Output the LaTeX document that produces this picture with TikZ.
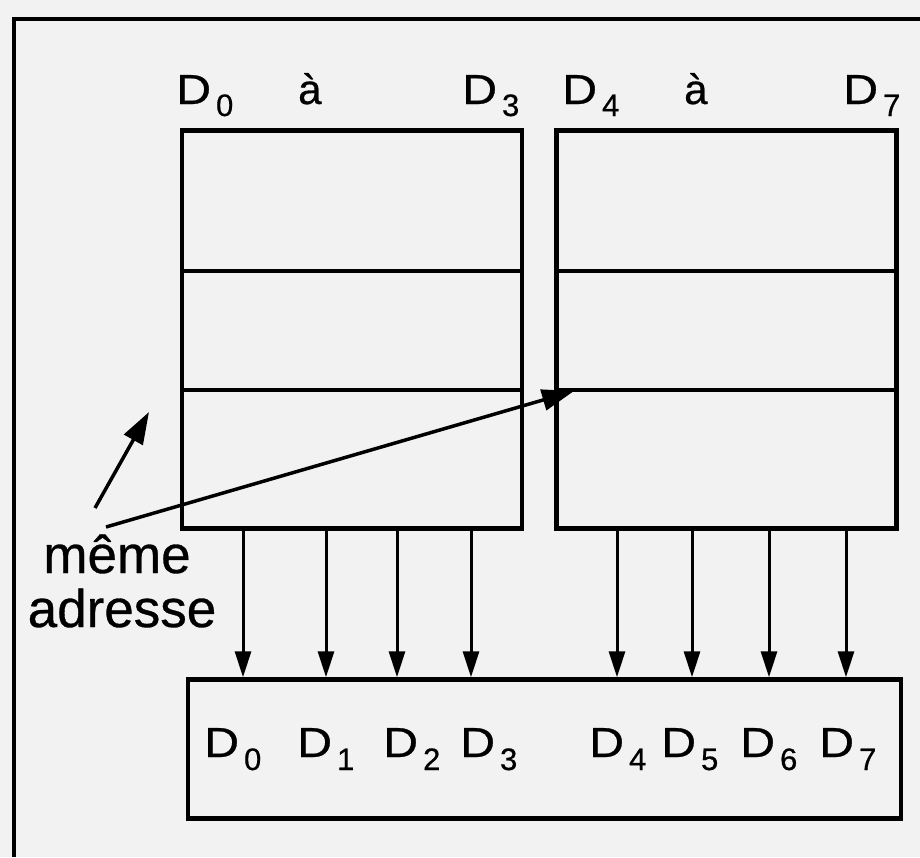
\documentclass[tikz,border=0pt]{standalone}
\usepackage{fontspec}
\setmainfont{Liberation Sans}
\newfontfamily\lblfont[FakeBold=0.6]{Liberation Sans}
\usetikzlibrary{arrows.meta}
% D_n label: slightly wide D followed by a lowered digit
\newcommand{\wideD}{\scalebox{1.15}[1]{D}}
\newcommand{\topD}[1]{\wideD\kern5pt\raisebox{-12pt}{\fontsize{31}{31}\selectfont #1}}
\newcommand{\botD}[1]{\wideD\kern5pt\raisebox{-13pt}{\fontsize{31}{31}\selectfont #1}}
\tikzset{
  memblock/.style={draw, line width=4.5pt, minimum width=340pt, minimum height=398pt, inner sep=0pt},
  outreg/.style={draw, line width=4.5pt, minimum width=713pt, minimum height=139pt, inner sep=0pt},
  divline/.style={line width=4.5pt},
  frameline/.style={line width=3.5pt},
  toplbl/.style={anchor=base west, inner sep=0pt, font=\lblfont\fontsize{42}{44}\selectfont},
  botlbl/.style={anchor=base west, inner sep=0pt, font=\lblfont\fontsize{42}{44}\selectfont},
  notelbl/.style={anchor=base, inner sep=0pt, font=\lblfont\fontsize{53}{55}\selectfont},
  busarrow/.style={line width=3pt, -{Triangle[length=26pt,width=16pt]}},
  notearrow/.style={line width=3.5pt, -{Triangle[length=32pt,width=21pt]}}
}
\begin{document}
\begin{tikzpicture}[x=1pt, y=-1pt]
  \useasboundingbox (0,0) rectangle (920,857);
  \fill[black!5] (0,0) rectangle (920,857);

  % frame (top and left edges)
  \draw[frameline] (14,857) -- (14,19) -- (920,19);

  % two memory blocks
  \node[memblock] (lb) at (352,329.5) {};
  \node[memblock] (rb) at (726.5,329.5) {};
  \foreach \y in {271,390}{
    \draw[divline] (lb.west |- 0,\y) -- (lb.east |- 0,\y);
    \draw[divline] (rb.west |- 0,\y) -- (rb.east |- 0,\y);
  }

  % output register
  \node[outreg] (bus) at (544.5,749) {};

  % bit lines from blocks to register
  \foreach \x [count=\i] in {243,326,397,471}{
    \coordinate (l\i) at (\x,0);
    \draw[busarrow] (lb.south -| l\i) -- (bus.north -| l\i);
  }
  \foreach \x [count=\i] in {617,692,769,846}{
    \coordinate (r\i) at (\x,0);
    \draw[busarrow] (rb.south -| r\i) -- (bus.north -| r\i);
  }

  % labels above the blocks
  \node[toplbl] (t0) at (176,104) {\topD{0}};
  \node[toplbl] (ta) at (298,104) {à};
  \node[toplbl] (t3) at (462,104) {\topD{3}};
  \node[toplbl] (t4) at (562,104) {\topD{4}};
  \node[toplbl] (tb) at (684,104) {à};
  \node[toplbl] (t7) at (843,104) {\topD{7}};

  % labels inside the register
  \foreach \x [count=\i from 0] in {204,297,383,460,589,661,740,819}{
    \node[botlbl] (b\i) at (\x,757) {\botD{\i}};
  }

  % note and its arrows
  \node[notelbl] (n1) at (117,573) {même};
  \node[notelbl] (n2) at (122,627) {adresse};
  \coordinate (p1) at (95,508);
  \coordinate (p2) at (149,412);
  \coordinate (q1) at (106,527);
  \coordinate (q2) at (574,391);
  \draw[notearrow] (p1) -- (p2);
  \draw[notearrow] (q1) -- (q2);
\end{tikzpicture}
\end{document}
